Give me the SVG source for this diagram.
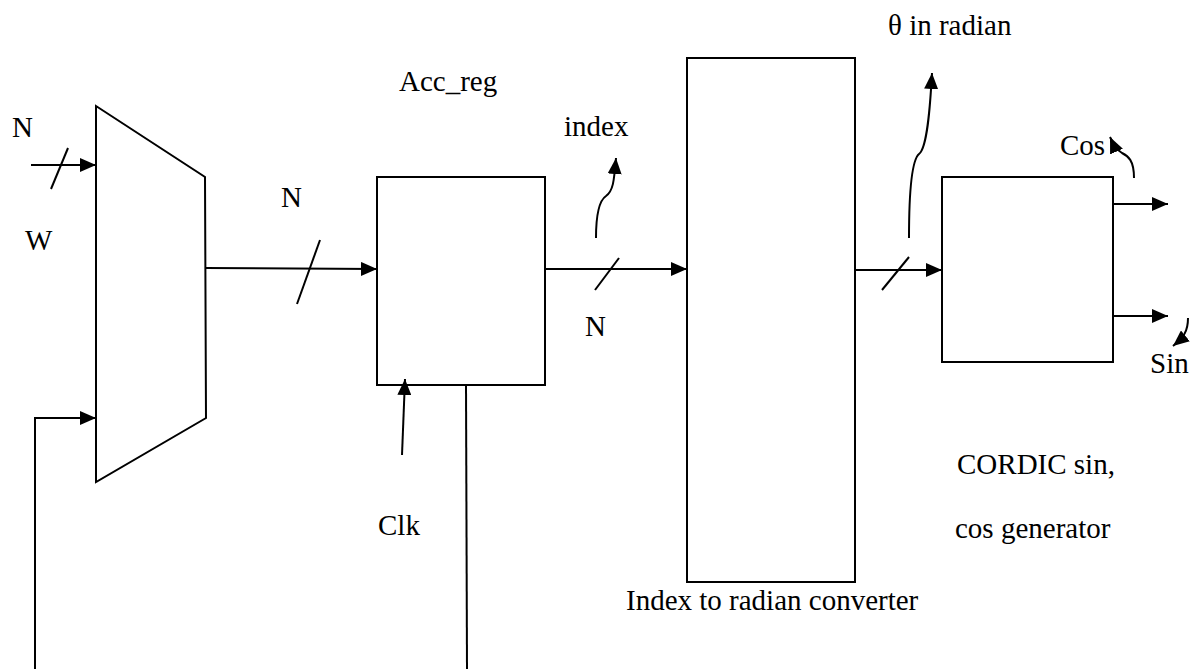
<svg xmlns="http://www.w3.org/2000/svg" width="1204" height="669" viewBox="0 0 1204 669">
<style>
.s{fill:none;stroke:#000;stroke-width:2}
.b{fill:#fff;stroke:#000;stroke-width:2}
text{font-family:"Liberation Serif","Times New Roman",serif;font-size:29px;fill:#000}
</style>
<defs>
<marker id="ah" markerUnits="userSpaceOnUse" markerWidth="16" markerHeight="14" refX="16" refY="7" orient="auto">
<path d="M0,0 L16,7 L0,14 Z" fill="#000"/>
</marker>
</defs>
<rect width="1204" height="669" fill="#fff"/>
<g id="mux"><path class="b" d="M96,106 L205,177 L206,418 L96,482 Z"/></g>
<g id="acc_reg"><rect class="b" x="377" y="177" width="168" height="208"/><text x="399" y="91">Acc_reg</text></g>
<g id="index_conv"><rect class="b" x="687" y="58" width="168" height="524"/><text x="626" y="610">Index to radian converter</text></g>
<g id="cordic"><rect class="b" x="942" y="177" width="171" height="185"/><text x="957" y="474">CORDIC sin,</text><text x="955" y="538">cos generator</text></g>
<g id="connectors">
<path class="s" d="M31,165 L96,165" marker-end="url(#ah)"/>
<path class="s" d="M51,189 L68,148"/>
<path class="s" d="M35,669 L35,418 L96,418" marker-end="url(#ah)"/>
<path class="s" d="M206,268 L377,269" marker-end="url(#ah)"/>
<path class="s" d="M297,304 L320,240"/>
<path class="s" d="M545,269 L687,269" marker-end="url(#ah)"/>
<path class="s" d="M595,290 L619,258"/>
<path class="s" d="M596,238 C596,212 600,200 606,196 C613,191 614,182 616,158" marker-end="url(#ah)"/>
<path class="s" d="M855,270 L942,270" marker-end="url(#ah)"/>
<path class="s" d="M882,290 L909,257"/>
<path class="s" d="M909,238 C909,190 912,160 919,154 C927,148 930,110 932,73" marker-end="url(#ah)"/>
<path class="s" d="M1113,204 L1168,204" marker-end="url(#ah)"/>
<path class="s" d="M1113,316 L1168,316" marker-end="url(#ah)"/>
<path class="s" d="M1134,178 C1134,160 1128,156 1122,153 C1117,150 1114,146 1110,137" marker-end="url(#ah)"/>
<path class="s" d="M1188,318 C1188,331 1184,337 1173,346" marker-end="url(#ah)"/>
<path class="s" d="M402,455 L405,379" marker-end="url(#ah)"/>
<path class="s" d="M466,385 L467,669"/>
</g>
<g id="labels">
<text x="12" y="137">N</text>
<text x="25" y="250">W</text>
<text x="281" y="207">N</text>
<text x="564" y="136">index</text>
<text x="888" y="35">θ in radian</text>
<text x="1060" y="155">Cos</text>
<text x="1150" y="373">Sin</text>
<text x="585" y="336">N</text>
<text x="378" y="535">Clk</text>
</g>
</svg>
